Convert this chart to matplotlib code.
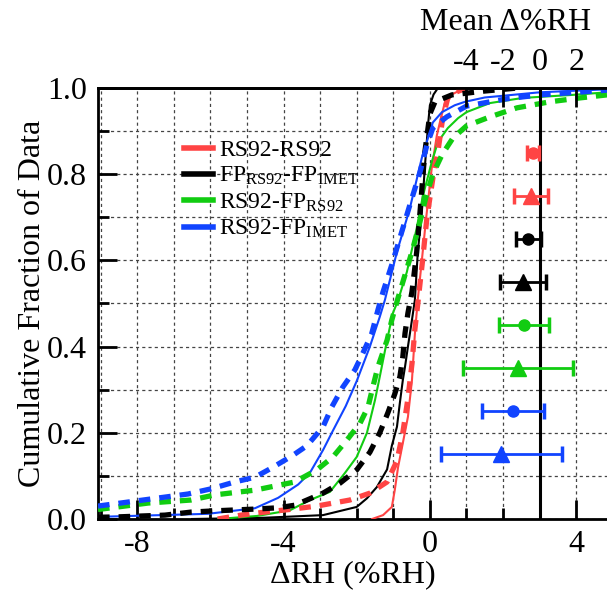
import matplotlib
matplotlib.use("Agg")
import matplotlib.pyplot as plt
from matplotlib.ticker import MultipleLocator, FixedLocator

plt.rcParams['font.family'] = ['Liberation Serif', 'DejaVu Serif']
plt.rcParams['mathtext.fontset'] = 'custom'
plt.rcParams['mathtext.rm'] = 'Liberation Serif'
plt.rcParams['mathtext.it'] = 'Liberation Serif:italic'

# ---------------- data ----------------
labels = ['RS92-RS92',
          r'FP$_{\mathrm{RS92}}$-FP$_{\mathrm{IMET}}$',
          r'RS92-FP$_{\mathrm{RS92}}$',
          r'RS92-FP$_{\mathrm{IMET}}$']
colors = ['#ff4444', '#000000', '#11cc11', '#1144ff']

# solid (thin) CDF curves
red_solid_x = [-1.58, -1.28, -1.04, -0.96, -0.87, -0.74, -0.6, -0.49, -0.41, -0.33, -0.22, -0.1, 0.05, 0.19, 0.3, 0.42, 0.6, 0.95]
red_solid_y = [0.0, 0.009, 0.028, 0.067, 0.12, 0.176, 0.237, 0.322, 0.43, 0.51, 0.6, 0.7, 0.814, 0.89, 0.93, 0.97, 0.985, 1.0]
black_solid_x = [-6.5, -4.5, -2.92, -2.0, -1.72, -1.45, -1.17, -1.04, -0.9, -0.82, -0.74, -0.68, -0.6, -0.49, -0.41, -0.33, -0.22, -0.14, -0.05, 0.0, 0.1, 0.22]
black_solid_y = [0.0, 0.003, 0.009, 0.028, 0.048, 0.074, 0.115, 0.17, 0.214, 0.27, 0.322, 0.353, 0.4, 0.462, 0.508, 0.62, 0.712, 0.814, 0.915, 0.96, 0.985, 1.0]
green_solid_x = [-5.79, -4.73, -3.83, -3.28, -2.73, -2.32, -2.0, -1.72, -1.5, -1.37, -1.17, -1.01, -0.88, -0.63, -0.36, -0.19, 0.05, 0.22, 0.49, 0.77, 1.0, 1.64, 2.54, 3.9, 4.84]
green_solid_y = [0.0, 0.007, 0.02, 0.044, 0.063, 0.107, 0.144, 0.2, 0.276, 0.33, 0.415, 0.478, 0.505, 0.573, 0.675, 0.75, 0.828, 0.875, 0.907, 0.93, 0.944, 0.965, 0.977, 0.984, 0.99]
blue_solid_x = [-9.07, -6.07, -4.78, -4.15, -3.6, -3.28, -2.92, -2.65, -2.3, -2.0, -1.64, -1.37, -1.23, -0.9, -0.55, -0.22, 0.08, 0.33, 0.68, 0.96, 1.5, 3.0, 4.84]
blue_solid_y = [0.005, 0.012, 0.025, 0.049, 0.08, 0.107, 0.16, 0.205, 0.262, 0.32, 0.4, 0.469, 0.508, 0.62, 0.72, 0.838, 0.92, 0.944, 0.96, 0.968, 0.978, 0.99, 0.997]

# dashed (thick) CDF curves
red_dash_x = [-5.8, -5.16, -4.51, -3.85, -3.09, -2.19, -1.64, -1.17, -0.9, -0.74, -0.6, -0.49, -0.41, -0.33, -0.2, -0.08, 0.08, 0.22, 0.35, 0.49, 0.7, 1.0]
red_dash_y = [0.0, 0.009, 0.016, 0.022, 0.03, 0.044, 0.06, 0.086, 0.135, 0.2, 0.28, 0.36, 0.44, 0.5, 0.6, 0.7, 0.79, 0.853, 0.93, 0.977, 0.99, 1.0]
black_dash_x = [-9.07, -8.5, -7.24, -6.53, -5.87, -4.78, -4.15, -3.69, -3.47, -2.92, -2.46, -2.0, -1.64, -1.37, -1.15, -0.96, -0.82, -0.74, -0.68, -0.6, -0.49, -0.36, -0.27, -0.14, 0.0, 0.14, 0.6, 1.5, 2.4]
black_dash_y = [0.004, 0.005, 0.009, 0.016, 0.019, 0.023, 0.026, 0.032, 0.04, 0.06, 0.083, 0.114, 0.155, 0.2, 0.246, 0.29, 0.33, 0.376, 0.431, 0.478, 0.527, 0.62, 0.712, 0.85, 0.94, 0.968, 0.984, 0.993, 1.0]
green_dash_x = [-9.07, -7.7, -6.53, -5.87, -4.78, -3.69, -3.09, -2.65, -2.27, -1.91, -1.69, -1.56, -1.42, -1.17, -1.04, -0.87, -0.49, -0.27, -0.1, 0.08, 0.33, 0.63, 1.0, 1.64, 2.38, 3.28, 4.1, 4.84]
green_dash_y = [0.022, 0.037, 0.044, 0.056, 0.067, 0.086, 0.114, 0.144, 0.183, 0.222, 0.26, 0.306, 0.353, 0.415, 0.462, 0.513, 0.62, 0.69, 0.75, 0.8, 0.845, 0.884, 0.912, 0.933, 0.954, 0.968, 0.977, 0.984]
blue_dash_x = [-9.07, -6.61, -5.98, -5.33, -4.78, -4.29, -3.74, -3.36, -2.92, -2.68, -2.38, -2.05, -1.83, -1.59, -1.42, -1.28, -1.04, -0.77, -0.55, -0.27, -0.08, 0.08, 0.46, 1.0, 2.1, 3.0, 4.84]
blue_dash_y = [0.03, 0.058, 0.07, 0.086, 0.097, 0.12, 0.148, 0.17, 0.214, 0.26, 0.306, 0.346, 0.385, 0.43, 0.485, 0.527, 0.59, 0.666, 0.728, 0.805, 0.868, 0.907, 0.933, 0.958, 0.975, 0.984, 0.995]

# mean differences (top axis) with error bars
mean_vals = [-0.35, -0.46, -0.62, -0.92, -0.86, -1.19, -1.45, -2.1]
mean_errs = [0.34, 0.93, 0.67, 1.25, 1.35, 3.02, 1.68, 3.3]
mean_ypos = [0.85, 0.75, 0.65, 0.55, 0.45, 0.35, 0.25, 0.15]
mean_markers = ['o', '^', 'o', '^', 'o', '^', 'o', '^']
mean_colors = ['#ff4444', '#ff4444', '#000000', '#000000', '#11cc11', '#11cc11', '#1144ff', '#1144ff']

xticks_main = [-8, -4, 0, 4]
yticks_main = [0.0, 0.2, 0.4, 0.6, 0.8, 1.0]
xticks_top = [-4, -2, 0, 2]

# ---------------- figure ----------------
fig = plt.figure(figsize=(6.07, 5.92), dpi=100)
ax = fig.add_axes([98 / 607, 73 / 592, 509 / 607, 431 / 592])
xmin, xmax = -9.07, 4.84
ax.set_xlim(xmin, xmax)
ax.set_ylim(0, 1)

grid_kw = dict(color='#444444', lw=0.9, linestyle=(0, (2.5, 2.5)))
ax.xaxis.set_major_locator(FixedLocator(xticks_main))
ax.xaxis.set_minor_locator(MultipleLocator(1))
ax.yaxis.set_major_locator(FixedLocator(yticks_main))
ax.yaxis.set_minor_locator(MultipleLocator(0.1))
ax.grid(True, which='both', **grid_kw)
ax.set_axisbelow(True)

ax.set_xticklabels([f'{v:d}' for v in xticks_main])
ax.set_yticklabels([f'{v:.1f}' for v in yticks_main])

solids = [(red_solid_x, red_solid_y), (black_solid_x, black_solid_y),
          (green_solid_x, green_solid_y), (blue_solid_x, blue_solid_y)]
dashes = [(red_dash_x, red_dash_y), (black_dash_x, black_dash_y),
          (green_dash_x, green_dash_y), (blue_dash_x, blue_dash_y)]

for (sx, sy), c in zip(solids, colors):
    ax.plot(sx, sy, color=c, lw=1.5, zorder=3)
for (dx, dy), c in zip(dashes, colors):
    ax.plot(dx, dy, color=c, lw=3.8, linestyle=(0, (2.2, 1.7)), zorder=3)

# legend proxies
handles = [plt.Line2D([], [], color=c, lw=4) for c in colors]
leg = ax.legend(handles, labels, loc='upper left', bbox_to_anchor=(0.168, 0.881),
                frameon=False, fontsize=17, handlelength=1.25, handletextpad=0.25,
                labelspacing=0.18, borderpad=0, borderaxespad=0)

for sp in ['left', 'bottom', 'top']:
    ax.spines[sp].set_linewidth(2)
ax.spines['right'].set_visible(False)

ax.tick_params(which='major', direction='in', length=14, width=2, labelsize=23, pad=8,
               top=False, right=False)
ax.tick_params(which='minor', direction='in', length=8, width=2, top=False, right=False)

ax.set_xlabel('ΔRH (%RH)', fontsize=23, labelpad=1)
ax.set_ylabel('Cumulative Fraction of Data', fontsize=23, labelpad=0)

# top axis for mean differences
ax2 = ax.twiny()
ax2.set_xlim(2 * (xmin - 3), 2 * (xmax - 3))
ax2.set_ylim(0, 1)
ax2.xaxis.set_major_locator(FixedLocator(xticks_top))
ax2.set_xticklabels([f'{v:d}' for v in xticks_top])
ax2.tick_params(axis='x', direction='in', length=14, width=2, labelsize=23, pad=8)
for sp in ['left', 'bottom', 'right']:
    ax2.spines[sp].set_visible(False)
ax2.spines['top'].set_linewidth(2)
ax2.axvline(0, color='k', lw=2.2, zorder=2)

for m, e, yp, mk, c in zip(mean_vals, mean_errs, mean_ypos, mean_markers, mean_colors):
    ax2.errorbar([m], [yp], xerr=[e], fmt=mk, color=c, ms=8 if mk == 'o' else 11,
                 elinewidth=2, capsize=6, capthick=2.5, zorder=4)

fig.text(506 / 607, 1 - 22 / 592, 'Mean Δ%RH', fontsize=23, ha='center', va='center')

fig.savefig('out.png', dpi=100)
